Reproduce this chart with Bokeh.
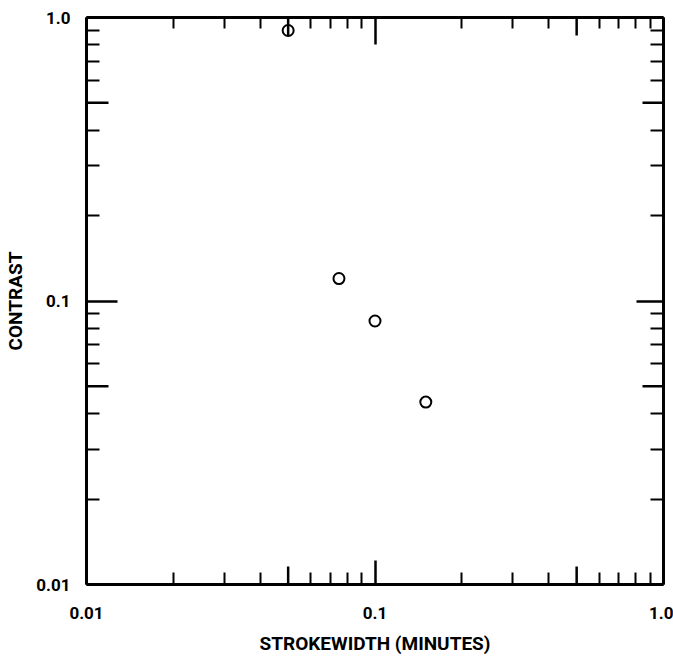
from bokeh.plotting import figure
from bokeh.models import LogAxis, FixedTicker
from bokeh.embed import file_html
from bokeh.resources import INLINE

# data
strokewidth = [0.05, 0.075, 0.1, 0.15]
contrast = [0.9, 0.12, 0.085, 0.044]

decade_ticks = [0.01, 0.1, 1.0]
decade_labels = {0.01: "0.01", 0.1: "0.1", 1.0: "1.0"}
half_ticks = [0.05, 0.5]
minor_ticks = [0.02, 0.03, 0.04, 0.06, 0.07, 0.08, 0.09,
               0.2, 0.3, 0.4, 0.6, 0.7, 0.8, 0.9]

FONT = "Roboto"

p = figure(width=673, height=664, x_axis_type="log", y_axis_type="log",
           x_range=(0.01, 1.0), y_range=(0.01, 1.0),
           output_backend="svg", toolbar_location=None,
           min_border_left=86, min_border_right=10, min_border_top=17,
           min_border_bottom=80)
p.grid.visible = False
p.outline_line_color = None
p.background_fill_color = "white"
p.border_fill_color = "white"


def style_axis(ax, major_len, minor_len, labels=True):
    ax.ticker = FixedTicker(ticks=decade_ticks, minor_ticks=minor_ticks)
    ax.axis_line_width = 3
    ax.axis_line_color = "black"
    ax.major_tick_in = major_len
    ax.major_tick_out = 0
    ax.minor_tick_in = minor_len
    ax.minor_tick_out = 0
    ax.major_tick_line_width = 2.5
    ax.minor_tick_line_width = 2
    ax.major_tick_line_color = "black"
    ax.minor_tick_line_color = "black"
    if labels:
        ax.major_label_overrides = decade_labels
        ax.major_label_text_font = FONT
        ax.major_label_text_font_style = "bold"
        ax.major_label_text_font_size = "17px"
        ax.major_label_text_color = "black"
        ax.axis_label_text_font = FONT
        ax.axis_label_text_font_style = "bold"
        ax.axis_label_text_font_size = "19px"
        ax.axis_label_text_color = "black"
    else:
        ax.major_label_text_font_size = "0px"
        ax.major_label_standoff = 0
        ax.major_label_overrides = {t: "" for t in decade_ticks}


xa = p.xaxis[0]
style_axis(xa, 24, 12)
xa.axis_label = "STROKEWIDTH (MINUTES)"
xa.major_label_standoff = 22
xa.axis_label_standoff = 10

ya = p.yaxis[0]
style_axis(ya, 31, 13)
ya.axis_label = "CONTRAST"
ya.major_label_standoff = 16
ya.axis_label_standoff = 6

top = LogAxis()
style_axis(top, 27, 11, labels=False)
p.add_layout(top, "above")
right = LogAxis()
style_axis(right, 27, 13, labels=False)
p.add_layout(right, "right")

# half-decade ticks (medium length)
p.ray(x=half_ticks, y=[0.01] * 2, length=18, length_units="screen",
      angle=90, angle_units="deg", line_color="black", line_width=2.5)
p.ray(x=half_ticks, y=[1.0] * 2, length=18, length_units="screen",
      angle=-90, angle_units="deg", line_color="black", line_width=2.5)
p.ray(x=[0.01] * 2, y=half_ticks, length=22, length_units="screen",
      angle=0, angle_units="deg", line_color="black", line_width=2.5)
p.ray(x=[1.0] * 2, y=half_ticks, length=21, length_units="screen",
      angle=180, angle_units="deg", line_color="black", line_width=2.5)

p.scatter(strokewidth, contrast, marker="circle", size=11,
          fill_color=None, line_color="black", line_width=2)

open("out.html", "w").write(file_html(p, INLINE))
